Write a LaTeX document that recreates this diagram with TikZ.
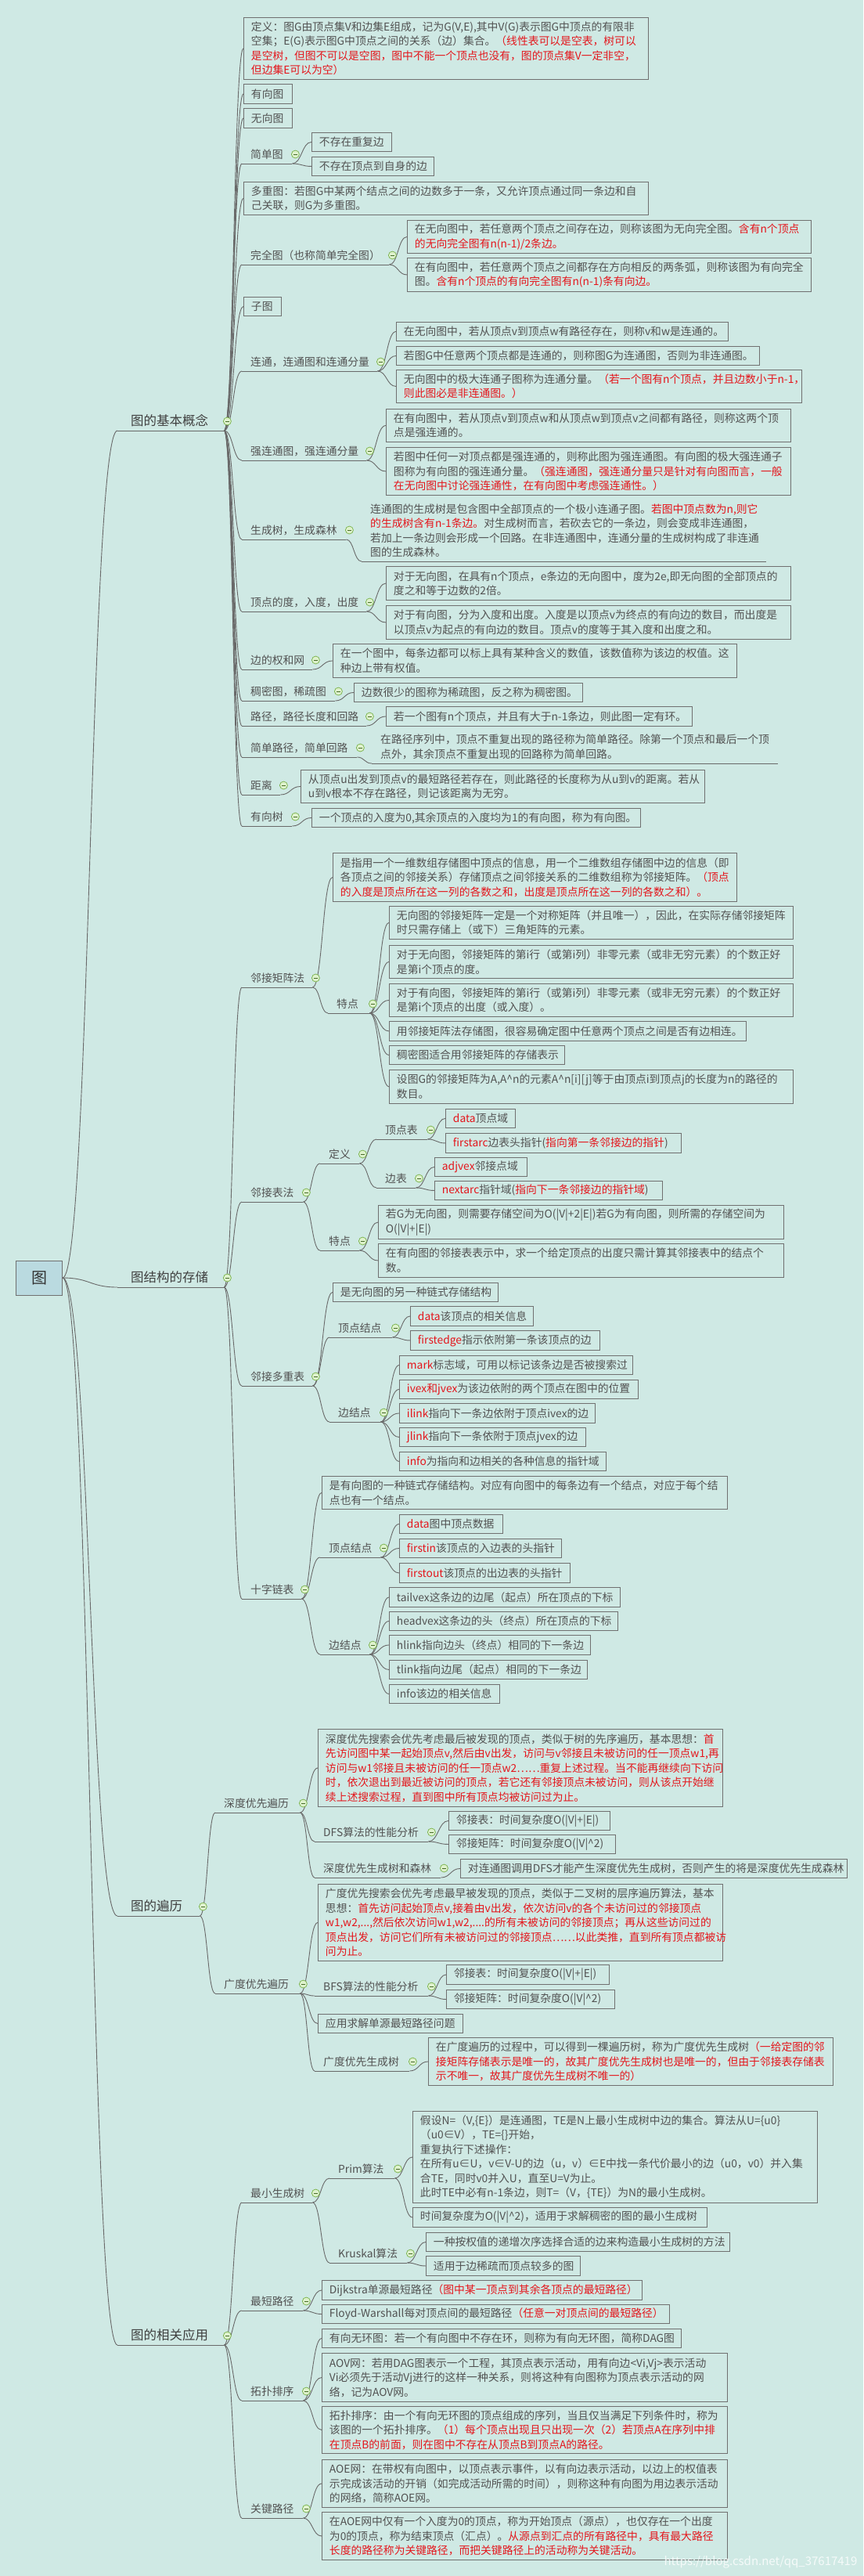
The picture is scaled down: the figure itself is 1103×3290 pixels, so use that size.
\documentclass[tikz,border=0pt]{standalone}
\usepackage{fontspec}
\setmainfont{Noto Sans CJK SC}
\usetikzlibrary{calc}
\definecolor{bgteal}{RGB}{207,233,228}
\definecolor{boxgray}{RGB}{112,112,112}
\definecolor{txtgray}{RGB}{82,82,82}
\definecolor{notered}{RGB}{228,22,28}
\definecolor{linegray}{RGB}{105,105,105}
\definecolor{togfill}{RGB}{222,242,205}
\definecolor{togline}{RGB}{118,176,70}
\definecolor{rootfill}{RGB}{186,218,224}
\newcommand{\rd}[1]{\textcolor{notered}{#1}}
\newcommand{\bodyfont}{\fontsize{13.8}{18.5}\selectfont\hyphenpenalty=10000\exhyphenpenalty=10000}
\newcommand{\mainfont}{\fontsize{16.5}{20}\selectfont}
\tikzset{
  tbox/.style={draw=boxgray, line width=0.9pt, anchor=north west, align=left,
    inner xsep=9.5pt, inner ysep=0pt, font=\bodyfont, text=txtgray},
  topic/.style={anchor=south west, align=left, inner xsep=11pt, inner ysep=5pt,
    font=\bodyfont, text=txtgray},
  maintopic/.style={anchor=south west, align=left, inner xsep=17pt, inner ysep=5pt,
    font=\mainfont, text=black!75},
  rootbox/.style={draw=boxgray, fill=rootfill, line width=1pt, minimum width=59pt,
    minimum height=44pt, font=\fontsize{20}{24}\selectfont, text=black!80},
  uline/.style={draw=linegray, line width=0.9pt},
  branch/.style={to path={.. controls ($(\tikztostart)!0.5!(\tikztotarget|-\tikztostart)$)
    and ($(\tikztotarget)!0.5!(\tikztostart|-\tikztotarget)$) .. (\tikztotarget)}},
  link/.style={draw=linegray, line width=0.9pt, branch},
  tog/.style={circle, draw=togline, fill=togfill, line width=0.7pt, minimum size=10pt,
    inner sep=0pt, path picture={\draw[togline!60!black, line width=0.8pt]
      ([xshift=-2.6pt]path picture bounding box.center) --
      ([xshift=2.6pt]path picture bounding box.center);}},
  wmark/.style={font=\fontsize{15}{18}\selectfont, text=white, opacity=0.8},
}

\begin{document}
\begin{tikzpicture}[x=1pt, y=-1pt]
  \useasboundingbox (0,0) rectangle (1103,3290);
  \fill[bgteal] (0,0) rectangle (1103,3290);

  % root
  \node[rootbox] (root) at (50,1632) {图};

  % main topics
  \node[maintopic, text width=102pt] (jbgn) at (150,550) {图的基本概念};
  \node[maintopic, text width=102pt] (cc) at (150,1644) {图结构的存储};
  \node[maintopic, text width=71pt] (bl) at (150,2447) {图的遍历};
  \node[maintopic, text width=102pt] (yy) at (150,2995) {图的相关应用};

  % ---------------- basic concepts
  \node[tbox, text width=498pt, minimum height=79pt] (b1) at (311,22)
    {定义：图G由顶点集V和边集E组成，记为G(V,E),其中V(G)表示图G中顶点的有限非\\
     空集；E(G)表示图G中顶点之间的关系（边）集合。\rd{（线性表可以是空表，树可以}\\
     \rd{是空树，但图不可以是空图，图中不能一个顶点也没有，图的顶点集V一定非空，}\\
     \rd{但边集E可以为空）}};
  \node[tbox, text width=43pt, minimum height=25pt] (b2) at (311,107) {有向图};
  \node[tbox, text width=43pt, minimum height=25pt] (b3) at (311,138) {无向图};
  \node[topic, text width=42pt] (jdt) at (309,209) {简单图};
  \node[tbox, text width=83pt, minimum height=24pt] (b4a) at (398,169) {不存在重复边};
  \node[tbox, text width=137pt, minimum height=24pt] (b4b) at (398,200) {不存在顶点到自身的边};
  \node[tbox, text width=498pt, minimum height=42pt] (b5) at (311,232)
    {多重图：若图G中某两个结点之间的边数多于一条，又允许顶点通过同一条边和自\\
     己关联，则G为多重图。};
  \node[topic, text width=166pt] (wqt) at (309,338) {完全图（也称简单完全图）};
  \node[tbox, text width=497pt, minimum height=42pt] (b6a) at (520,281)
    {在无向图中，若任意两个顶点之间存在边，则称该图为无向完全图。\rd{含有n个顶点}\\
     \rd{的无向完全图有n(n-1)/2条边。}};
  \node[tbox, text width=497pt, minimum height=43pt] (b6b) at (520,329)
    {在有向图中，若任意两个顶点之间都存在方向相反的两条弧，则称该图为有向完全\\
     图。\rd{含有n个顶点的有向完全图有n(n-1)条有向边。}};
  \node[tbox, text width=29pt, minimum height=24pt] (b7) at (311,379) {子图};
  \node[topic, text width=151pt] (lt) at (309,474) {连通，连通图和连通分量};
  \node[tbox, text width=405pt, minimum height=24pt] (b8a) at (506,411)
    {在无向图中，若从顶点v到顶点w有路径存在，则称v和w是连通的。};
  \node[tbox, text width=445pt, minimum height=24pt] (b8b) at (506,442)
    {若图G中任意两个顶点都是连通的，则称图G为连通图，否则为非连通图。};
  \node[tbox, text width=499pt, minimum height=42pt] (b8c) at (506,472)
    {无向图中的极大连通子图称为连通分量。\rd{（若一个图有n个顶点，并且边数小于n-1，}\\
     \rd{则此图必是非连通图。）}};
  \node[topic, text width=137pt] (qlt) at (309,588) {强连通图，强连通分量};
  \node[tbox, text width=498pt, minimum height=42pt] (b9a) at (493,522)
    {在有向图中，若从顶点v到顶点w和从顶点w到顶点v之间都有路径，则称这两个顶\\
     点是强连通的。};
  \node[tbox, text width=498pt, minimum height=61pt] (b9b) at (493,571)
    {若图中任何一对顶点都是强连通的，则称此图为强连通图。有向图的极大强连通子\\
     图称为有向图的强连通分量。\rd{（强连通图，强连通分量只是针对有向图而言，一般}\\
     \rd{在无向图中讨论强连通性，在有向图中考虑强连通性。）}};
  \node[topic, text width=111pt] (scs) at (309,689) {生成树，生成森林};
  \node[topic, text width=495pt] (u10) at (462,717)
    {连通图的生成树是包含图中全部顶点的一个极小连通子图。\rd{若图中顶点数为n,则它}\\
     \rd{的生成树含有n-1条边。}对生成树而言，若砍去它的一条边，则会变成非连通图，\\
     若加上一条边则会形成一个回路。在非连通图中，连通分量的生成树构成了非连通\\
     图的生成森林。};
  \node[topic, text width=137pt] (dd) at (309,781) {顶点的度，入度，出度};
  \node[tbox, text width=498pt, minimum height=43pt] (b11a) at (493,723)
    {对于无向图，在具有n个顶点，e条边的无向图中，度为2e,即无向图的全部顶点的\\
     度之和等于边数的2倍。};
  \node[tbox, text width=498pt, minimum height=43pt] (b11b) at (493,773)
    {对于有向图，分为入度和出度。入度是以顶点v为终点的有向边的数目，而出度是\\
     以顶点v为起点的有向边的数目。顶点v的度等于其入度和出度之和。};
  \node[topic, text width=68pt] (qw) at (309,855) {边的权和网};
  \node[tbox, text width=497pt, minimum height=43pt] (b12) at (425,822)
    {在一个图中，每条边都可以标上具有某种含义的数值，该数值称为该边的权值。这\\
     种边上带有权值。};
  \node[topic, text width=97pt] (cm) at (309,895) {稠密图，稀疏图};
  \node[tbox, text width=273pt, minimum height=24pt] (b13) at (452,872)
    {边数很少的图称为稀疏图，反之称为稠密图。};
  \node[topic, text width=137pt] (lj) at (309,927) {路径，路径长度和回路};
  \node[tbox, text width=372pt, minimum height=25pt] (b14) at (493,902)
    {若一个图有n个顶点，并且有大于n-1条边，则此图一定有环。};
  \node[topic, text width=125pt] (jlj) at (309,967) {简单路径，简单回路};
  \node[topic, text width=497pt] (u15) at (475,975)
    {在路径序列中，顶点不重复出现的路径称为简单路径。除第一个顶点和最后一个顶\\
     点外，其余顶点不重复出现的回路称为简单回路。};
  \node[topic, text width=27pt] (jl) at (309,1015) {距离};
  \node[tbox, text width=497pt, minimum height=42pt] (b16) at (384,983)
    {从顶点u出发到顶点v的最短路径若存在，则此路径的长度称为从u到v的距离。若从\\
     u到v根本不存在路径，则记该距离为无穷。};
  \node[topic, text width=42pt] (yxs) at (309,1055) {有向树};
  \node[tbox, text width=401pt, minimum height=24pt] (b17) at (398,1032)
    {一个顶点的入度为0,其余顶点的入度均为1的有向图，称为有向图。};

  % ---------------- storage
  \node[topic, text width=68pt] (jzf) at (309,1261) {邻接矩阵法};
  \node[tbox, text width=497pt, minimum height=62pt] (b20) at (425,1089)
    {是指用一个一维数组存储图中顶点的信息，用一个二维数组存储图中边的信息（即\\
     各顶点之间的邻接关系）存储顶点之间邻接关系的二维数组称为邻接矩阵。\rd{（顶点}\\
     \rd{的入度是顶点所在这一列的各数之和，出度是顶点所在这一列的各数之和）。}};
  \node[topic, text width=31pt] (jztd) at (419,1294) {特点};
  \node[tbox, text width=497pt, minimum height=42pt] (b21a) at (497,1157)
    {无向图的邻接矩阵一定是一个对称矩阵（并且唯一），因此，在实际存储邻接矩阵\\
     时只需存储上（或下）三角矩阵的元素。};
  \node[tbox, text width=497pt, minimum height=42pt] (b21b) at (497,1207)
    {对于无向图，邻接矩阵的第i行（或第i列）非零元素（或非无穷元素）的个数正好\\
     是第i个顶点的度。};
  \node[tbox, text width=497pt, minimum height=42pt] (b21c) at (497,1256)
    {对于有向图，邻接矩阵的第i行（或第i列）非零元素（或非无穷元素）的个数正好\\
     是第i个顶点的出度（或入度）。};
  \node[tbox, text width=437pt, minimum height=25pt] (b21d) at (497,1304)
    {用邻接矩阵法存储图，很容易确定图中任意两个顶点之间是否有边相连。};
  \node[tbox, text width=205pt, minimum height=24pt] (b21e) at (497,1335)
    {稠密图适合用邻接矩阵的存储表示};
  \node[tbox, text width=497pt, minimum height=43pt] (b21f) at (497,1366)
    {设图G的邻接矩阵为A,A\textasciicircum n的元素A\textasciicircum n[i][j]等于由顶点i到顶点j的长度为n的路径的\\
     数目。};
  \node[topic, text width=56pt] (jbf) at (309,1535) {邻接表法};
  \node[topic, text width=28pt] (jbdy) at (409,1486) {定义};
  \node[topic, text width=43pt] (djb) at (481,1455) {顶点表};
  \node[tbox, text width=70pt, minimum height=24pt] (b22a) at (569,1416) {\rd{data}顶点域};
  \node[tbox, text width=282pt, minimum height=25pt] (b22b) at (569,1447)
    {\rd{firstarc}边表头指针(\rd{指向第一条邻接边的指针})};
  \node[topic, text width=28pt] (bb) at (481,1517) {边表};
  \node[tbox, text width=99pt, minimum height=24pt] (b22c) at (555,1478) {\rd{adjvex}邻接点域};
  \node[tbox, text width=272pt, minimum height=24pt] (b22d) at (555,1508)
    {\rd{nextarc}指针域(\rd{指向下一条邻接边的指针域})};
  \node[topic, text width=28pt] (jbtd) at (409,1597) {特点};
  \node[tbox, text width=499pt, minimum height=43pt] (b23a) at (483,1539)
    {若G为无向图，则需要存储空间为O(|V|+2|E|)若G为有向图，则所需的存储空间为\\
     O(|V|+|E|)};
  \node[tbox, text width=499pt, minimum height=43pt] (b23b) at (483,1588)
    {在有向图的邻接表表示中，求一个给定顶点的出度只需计算其邻接表中的结点个\\
     数。};
  \node[topic, text width=68pt] (dcb) at (309,1770) {邻接多重表};
  \node[tbox, text width=192pt, minimum height=24pt] (b24) at (425,1638)
    {是无向图的另一种链式存储结构};
  \node[topic, text width=58pt] (dcdj) at (421,1708) {顶点结点};
  \node[tbox, text width=138pt, minimum height=25pt] (b25a) at (524,1668) {\rd{data}该顶点的相关信息};
  \node[tbox, text width=223pt, minimum height=25pt] (b25b) at (524,1699)
    {\rd{firstedge}指示依附第一条该顶点的边};
  \node[topic, text width=43pt] (dcbj) at (421,1816) {边结点};
  \node[tbox, text width=279pt, minimum height=24pt] (b26a) at (510,1731)
    {\rd{mark}标志域，可用以标记该条边是否被搜索过};
  \node[tbox, text width=286pt, minimum height=24pt] (b26b) at (510,1762)
    {\rd{ivex和jvex}为该边依附的两个顶点在图中的位置};
  \node[tbox, text width=231pt, minimum height=25pt] (b26c) at (510,1792)
    {\rd{ilink}指向下一条边依附于顶点ivex的边};
  \node[tbox, text width=219pt, minimum height=24pt] (b26d) at (510,1823)
    {\rd{jlink}指向下一条依附于顶点jvex的边};
  \node[tbox, text width=245pt, minimum height=24pt] (b26e) at (510,1854)
    {\rd{info}为指向和边相关的各种信息的指针域};
  \node[topic, text width=54pt] (szlb) at (309,2042) {十字链表};
  \node[tbox, text width=499pt, minimum height=42pt] (b27) at (411,1885)
    {是有向图的一种链式存储结构。对应有向图中的每条边有一个结点，对应于每个结\\
     点也有一个结点。};
  \node[topic, text width=55pt] (szdj) at (409,1989) {顶点结点};
  \node[tbox, text width=113pt, minimum height=24pt] (b28a) at (510,1934) {\rd{data}图中顶点数据};
  \node[tbox, text width=188pt, minimum height=24pt] (b28b) at (510,1965)
    {\rd{firstin}该顶点的入边表的头指针};
  \node[tbox, text width=199pt, minimum height=25pt] (b28c) at (510,1996)
    {\rd{firstout}该顶点的出边表的头指针};
  \node[topic, text width=41pt] (szbj) at (409,2113) {边结点};
  \node[tbox, text width=276pt, minimum height=25pt] (b29a) at (497,2027)
    {tailvex这条边的边尾（起点）所在顶点的下标};
  \node[tbox, text width=273pt, minimum height=24pt] (b29b) at (497,2058)
    {headvex这条边的头（终点）所在顶点的下标};
  \node[tbox, text width=238pt, minimum height=25pt] (b29c) at (497,2088)
    {hlink指向边头（终点）相同的下一条边};
  \node[tbox, text width=234pt, minimum height=24pt] (b29d) at (497,2120)
    {tlink指向边尾（起点）相同的下一条边};
  \node[tbox, text width=122pt, minimum height=24pt] (b29e) at (497,2151)
    {info该边的相关信息};

  % ---------------- traversal
  \node[topic, text width=86pt] (sd) at (275,2315) {深度优先遍历};
  \node[tbox, text width=498pt, minimum height=99pt] (b30) at (406,2208)
    {深度优先搜索会优先考虑最后被发现的顶点，类似于树的先序遍历，基本思想：\rd{首}\\
     \rd{先访问图中某一起始顶点v,然后由v出发，访问与v邻接且未被访问的任一顶点w1,再}\\
     \rd{访问与w1邻接且未被访问的任一顶点w2……重复上述过程。当不能再继续向下访问}\\
     \rd{时，依次退出到最近被访问的顶点，若它还有邻接顶点未被访问，则从该点开始继}\\
     \rd{续上述搜索过程，直到图中所有顶点均被访问过为止。}};
  \node[topic, text width=123pt] (dfsfx) at (402,2352) {DFS算法的性能分析};
  \node[tbox, text width=187pt, minimum height=24pt] (b31a) at (573,2313)
    {邻接表：时间复杂度O(|V|+|E|)};
  \node[tbox, text width=194pt, minimum height=24pt] (b31b) at (573,2343)
    {邻接矩阵：时间复杂度O(|V|\textasciicircum 2)};
  \node[topic, text width=139pt] (sdsl) at (402,2398) {深度优先生成树和森林};
  \node[tbox, text width=475pt, minimum height=24pt] (b32) at (588,2374)
    {对连通图调用DFS才能产生深度优先生成树，否则产生的将是深度优先生成森林};
  \node[topic, text width=86pt] (gd) at (275,2546) {广度优先遍历};
  \node[tbox, text width=498pt, minimum height=98pt] (b33) at (406,2406)
    {广度优先搜索会优先考虑最早被发现的顶点，类似于二叉树的层序遍历算法，基本\\
     思想：\rd{首先访问起始顶点v,接着由v出发，依次访问v的各个未访问过的邻接顶点}\\
     \rd{w1,w2,...,然后依次访问w1,w2,....的所有未被访问的邻接顶点；再从这些访问过的}\\
     \rd{顶点出发，访问它们所有未被访问过的邻接顶点……以此类推，直到所有顶点都被访}\\
     \rd{问为止。}};
  \node[topic, text width=123pt] (bfsfx) at (402,2549) {BFS算法的性能分析};
  \node[tbox, text width=189pt, minimum height=25pt] (b34a) at (570,2509)
    {邻接表：时间复杂度O(|V|+|E|)};
  \node[tbox, text width=196pt, minimum height=24pt] (b34b) at (570,2541)
    {邻接矩阵：时间复杂度O(|V|\textasciicircum 2)};
  \node[tbox, text width=166pt, minimum height=24pt] (b35) at (406,2572)
    {应用求解单源最短路径问题};
  \node[topic, text width=99pt] (gdscs) at (402,2645) {广度优先生成树};
  \node[tbox, text width=498pt, minimum height=61pt] (b36) at (547,2602)
    {在广度遍历的过程中，可以得到一棵遍历树，称为广度优先生成树\rd{（一给定图的邻}\\
     \rd{接矩阵存储表示是唯一的，故其广度优先生成树也是唯一的，但由于邻接表存储表}\\
     \rd{示不唯一，故其广度优先生成树不唯一的）}};

  % ---------------- applications
  \node[topic, text width=68pt] (zxscs) at (309,2813) {最小生成树};
  \node[topic, text width=61pt] (prim) at (421,2782) {Prim算法};
  \node[tbox, text width=498pt, minimum height=117pt] (b40a) at (527,2696)
    {假设N=（V,\{E\}）是连通图，TE是N上最小生成树中边的集合。算法从U=\{u0\}\\
     （u0∈V），TE=\{\}开始，\\
     重复执行下述操作：\\
     在所有u∈U，v∈V-U的边（u，v）∈E中找一条代价最小的边（u0，v0）并入集\\
     合TE，同时v0并入U，直至U=V为止。\\
     此时TE中必有n-1条边，则T=（V，\{TE\}）为N的最小生成树。};
  \node[tbox, text width=357pt, minimum height=25pt] (b40b) at (527,2819)
    {时间复杂度为O(|V|\textasciicircum 2)，适用于求解稠密的图的最小生成树};
  \node[topic, text width=77pt] (krus) at (421,2890) {Kruskal算法};
  \node[tbox, text width=369pt, minimum height=24pt] (b41a) at (544,2851)
    {一种按权值的递增次序选择合适的边来构造最小生成树的方法};
  \node[tbox, text width=178pt, minimum height=25pt] (b41b) at (544,2881)
    {适用于边稀疏而顶点较多的图};
  \node[topic, text width=56pt] (zdlj) at (309,2951) {最短路径};
  \node[tbox, text width=390pt, minimum height=25pt] (b42a) at (411,2912)
    {Dijkstra单源最短路径\rd{（图中某一顶点到其余各顶点的最短路径）}};
  \node[tbox, text width=425pt, minimum height=24pt] (b42b) at (411,2943)
    {Floyd-Warshall每对顶点间的最短路径\rd{（任意一对顶点间的最短路径）}};
  \node[topic, text width=56pt] (tppx) at (309,3066) {拓扑排序};
  \node[tbox, text width=440pt, minimum height=24pt] (b43a) at (411,2974)
    {有向无环图：若一个有向图中不存在环，则称为有向无环图，简称DAG图};
  \node[tbox, text width=499pt, minimum height=62pt] (b43b) at (411,3005)
    {AOV网：若用DAG图表示一个工程，其顶点表示活动，用有向边<Vi,Vj>表示活动\\
     Vi必须先于活动Vj进行的这样一种关系，则将这种有向图称为顶点表示活动的网\\
     络，记为AOV网。};
  \node[tbox, text width=499pt, minimum height=60pt] (b43c) at (411,3073)
    {拓扑排序：由一个有向无环图的顶点组成的序列，当且仅当满足下列条件时，称为\\
     该图的一个拓扑排序。\rd{（1）每个顶点出现且只出现一次（2）若顶点A在序列中排}\\
     \rd{在顶点B的前面，则在图中不存在从顶点B到顶点A的路径。}};
  \node[topic, text width=56pt] (gjlj) at (309,3216) {关键路径};
  \node[tbox, text width=499pt, minimum height=61pt] (b44a) at (411,3141)
    {AOE网：在带权有向图中，以顶点表示事件，以有向边表示活动，以边上的权值表\\
     示完成该活动的开销（如完成活动所需的时间），则称这种有向图为用边表示活动\\
     的网络，简称AOE网。};
  \node[tbox, text width=499pt, minimum height=61pt] (b44b) at (411,3208)
    {在AOE网中仅有一个入度为0的顶点，称为开始顶点（源点），也仅存在一个出度\\
     为0的顶点，称为结束顶点（汇点）。\rd{从源点到汇点的所有路径中，具有最大路径}\\
     \rd{长度的路径称为关键路径，而把关键路径上的活动称为关键活动。}};

  % underlines of the topics
  \foreach \n in {jbgn,cc,bl,yy,jdt,wqt,lt,qlt,scs,u10,dd,qw,cm,lj,jlj,u15,jl,yxs,
                  jzf,jztd,jbf,jbdy,djb,bb,jbtd,dcb,dcdj,dcbj,szlb,szdj,szbj,
                  sd,dfsfx,sdsl,gd,bfsfx,gdscs,zxscs,prim,krus,zdlj,tppx,gjlj}
    { \draw[uline] (\n.south west) -- (\n.south east); }

  % connectors: root to main topics
  \foreach \b in {jbgn,cc,bl,yy}
    { \draw[link] (root.east) to (\b.south west); }
  % connectors: topic to topic
  \foreach \a/\b in {jbgn/jdt,jbgn/wqt,jbgn/lt,jbgn/qlt,jbgn/scs,jbgn/dd,jbgn/qw,jbgn/cm,
                     jbgn/lj,jbgn/jlj,jbgn/jl,jbgn/yxs,scs/u10,jlj/u15,
                     cc/jzf,cc/jbf,cc/dcb,cc/szlb,jzf/jztd,jbf/jbdy,jbf/jbtd,jbdy/djb,jbdy/bb,
                     dcb/dcdj,dcb/dcbj,szlb/szdj,szlb/szbj,
                     bl/sd,bl/gd,sd/dfsfx,sd/sdsl,gd/bfsfx,gd/gdscs,
                     yy/zxscs,yy/zdlj,yy/tppx,yy/gjlj,zxscs/prim,zxscs/krus}
    { \draw[link] (\a.south east) to (\b.south west); }
  % connectors: topic to box
  \foreach \a/\b in {jbgn/b1,jbgn/b2,jbgn/b3,jbgn/b5,jbgn/b7,jdt/b4a,jdt/b4b,wqt/b6a,wqt/b6b,
                     lt/b8a,lt/b8b,lt/b8c,qlt/b9a,qlt/b9b,dd/b11a,dd/b11b,qw/b12,cm/b13,
                     lj/b14,jl/b16,yxs/b17,
                     jzf/b20,jztd/b21a,jztd/b21b,jztd/b21c,jztd/b21d,jztd/b21e,jztd/b21f,
                     djb/b22a,djb/b22b,bb/b22c,bb/b22d,jbtd/b23a,jbtd/b23b,
                     dcb/b24,dcdj/b25a,dcdj/b25b,dcbj/b26a,dcbj/b26b,dcbj/b26c,dcbj/b26d,dcbj/b26e,
                     szlb/b27,szdj/b28a,szdj/b28b,szdj/b28c,
                     szbj/b29a,szbj/b29b,szbj/b29c,szbj/b29d,szbj/b29e,
                     sd/b30,dfsfx/b31a,dfsfx/b31b,sdsl/b32,gd/b33,gd/b35,bfsfx/b34a,bfsfx/b34b,
                     gdscs/b36,prim/b40a,prim/b40b,krus/b41a,krus/b41b,zdlj/b42a,zdlj/b42b,
                     tppx/b43a,tppx/b43b,tppx/b43c,gjlj/b44a,gjlj/b44b}
    { \draw[link] (\a.south east) to (\b.west); }

  % collapse toggles
  \foreach \n in {jbgn,cc,bl,yy,jdt,wqt,lt,qlt,scs,dd,qw,cm,lj,jlj,jl,yxs,
                  jzf,jztd,jbf,jbdy,djb,bb,jbtd,dcb,dcdj,dcbj,szlb,szdj,szbj,
                  sd,dfsfx,sdsl,gd,bfsfx,gdscs,zxscs,prim,krus,zdlj,tppx,gjlj}
    { \node[tog] (\n-t) at ([shift={(4,-12)}]\n.south east) {}; }

  % watermark
  \node[wmark] (wm) at (972,3272) {https://blog.csdn.net/qq\_37617419};
\end{tikzpicture}
\end{document}
